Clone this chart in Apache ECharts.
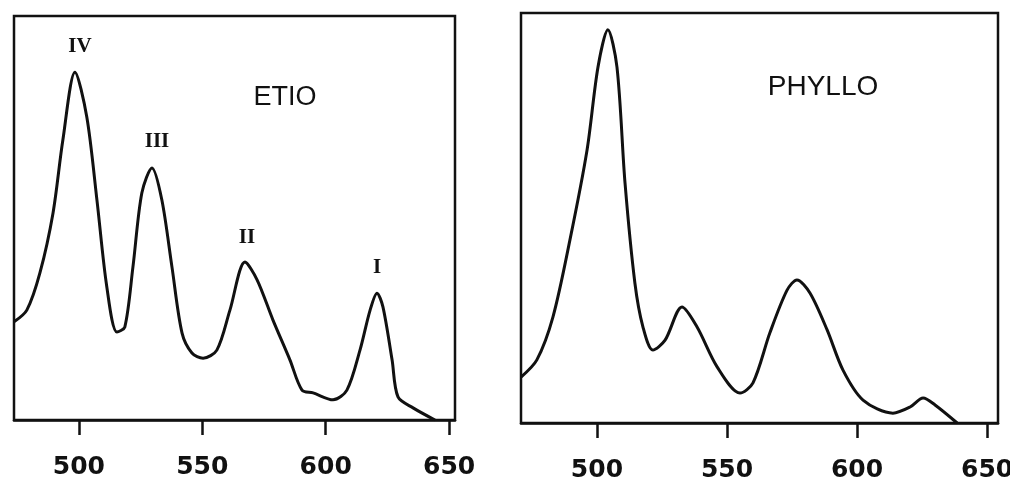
<!DOCTYPE html>
<html>
<head>
<meta charset="utf-8">
<script src="https://cdn.jsdelivr.net/npm/echarts@6/dist/echarts.min.js"></script>
<style>
  html, body { margin: 0; padding: 0; background: #fff; }
  #main { width: 1010px; height: 482px; }
</style>
</head>
<body>
<div id="main"></div>
<script>
// ETIO spectrum (wavelength nm, relative absorbance)
var etioWavelength = [473.7, 478.9, 484.2, 489.5, 493.5, 498.4, 503.2, 507.3, 511.3, 515.4, 518.6, 521.9, 525.5, 529.6, 533.6, 537.7, 541.8, 545.8, 550.3, 555.9, 561.2, 567.3, 572.2, 578.6, 585.5, 590.4, 594.9, 603.0, 608.6, 613.9, 618.0, 620.8, 623.2, 626.9, 629.3, 635.4, 644.3];
var etioAbs = [24.3, 27.2, 36.4, 51.2, 69.3, 86.1, 75.0, 54.5, 33.0, 21.8, 23.0, 37.9, 56.2, 62.4, 54.5, 37.9, 21.5, 16.6, 15.3, 17.3, 27.2, 39.1, 34.7, 24.8, 14.9, 7.4, 6.7, 5.0, 7.4, 17.3, 27.2, 31.4, 28.0, 14.9, 5.7, 3.0, 0.0];

// PHYLLO spectrum
var phylloWavelength = [470.8, 476.9, 483.1, 489.6, 496.2, 500.4, 504.2, 507.7, 510.8, 514.6, 517.7, 521.5, 526.2, 532.7, 538.5, 546.2, 555.0, 560.0, 566.5, 573.1, 576.9, 581.9, 588.5, 594.6, 602.3, 613.8, 620.4, 625.4, 630.0, 638.5];
var phylloAbs = [11.2, 15.4, 25.9, 44.6, 66.6, 86.8, 95.9, 86.8, 58.5, 34.1, 23.4, 17.8, 20.2, 28.3, 23.4, 13.7, 7.3, 9.8, 22.0, 32.4, 34.9, 31.7, 22.7, 12.9, 5.6, 2.4, 3.9, 6.1, 4.4, 0.0];

var tickValues = [500, 550, 600, 650];
var peakNames = ['IV', 'III', 'II', 'I'];

function pairs(xs, ys) {
    return xs.map(function (x, i) { return [x, ys[i]]; });
}

var dom = document.getElementById('main');
var chart = echarts.init(dom);

function makeX(idx, min, max) {
    return {
        type: 'value',
        gridIndex: idx,
        min: min,
        max: max,
        splitLine: { show: false },
        axisLine: { show: true, onZero: false, lineStyle: { color: '#111', width: 2.5 } },
        axisTick: {
            show: true,
            customValues: tickValues,
            length: 15,
            inside: false,
            lineStyle: { color: '#111', width: 2.5 }
        },
        axisLabel: {
            customValues: tickValues,
            margin: 35,
            color: '#111',
            fontSize: 25,
            fontWeight: 'bold',
            fontFamily: 'DejaVu Sans'
        }
    };
}

function makeY(idx) {
    return {
        type: 'value',
        gridIndex: idx,
        min: 0,
        max: 100,
        show: false
    };
}

var lineStyle = { color: '#111', width: 3 };

function peakText(x, y, txt) {
    return { type: 'text', x: x, y: y, style: { text: txt, font: 'bold 21px "Liberation Serif"', fill: '#111', align: 'center', verticalAlign: 'middle' } };
}

chart.setOption({
    animation: false,
    backgroundColor: '#fff',
    grid: [
        { left: 14, top: 16, width: 441, height: 404, show: true, borderColor: '#111', borderWidth: 2.5, outerBoundsMode: 'none', containLabel: false },
        { left: 521, top: 13, width: 477, height: 410, show: true, borderColor: '#111', borderWidth: 2.5, outerBoundsMode: 'none', containLabel: false }
    ],
    xAxis: [makeX(0, 473.7, 652.4), makeX(1, 470.8, 654.2)],
    yAxis: [makeY(0), makeY(1)],
    series: [
        {
            type: 'line', xAxisIndex: 0, yAxisIndex: 0,
            data: pairs(etioWavelength, etioAbs),
            showSymbol: false, smooth: 0.3,
            lineStyle: lineStyle
        },
        {
            type: 'line', xAxisIndex: 1, yAxisIndex: 1,
            data: pairs(phylloWavelength, phylloAbs),
            showSymbol: false, smooth: 0.3,
            lineStyle: lineStyle
        }
    ],
    graphic: [
        peakText(80, 47, peakNames[0]),
        peakText(157, 142, peakNames[1]),
        peakText(247, 238, peakNames[2]),
        peakText(377, 268, peakNames[3]),
        { type: 'text', x: 285, y: 98, style: { text: 'ETIO', font: '27px "Liberation Sans"', fill: '#111', align: 'center', verticalAlign: 'middle' } },
        { type: 'text', x: 823, y: 87, style: { text: 'PHYLLO', font: '28px "Liberation Sans"', fill: '#111', align: 'center', verticalAlign: 'middle' } }
    ]
});
</script>
</body>
</html>
